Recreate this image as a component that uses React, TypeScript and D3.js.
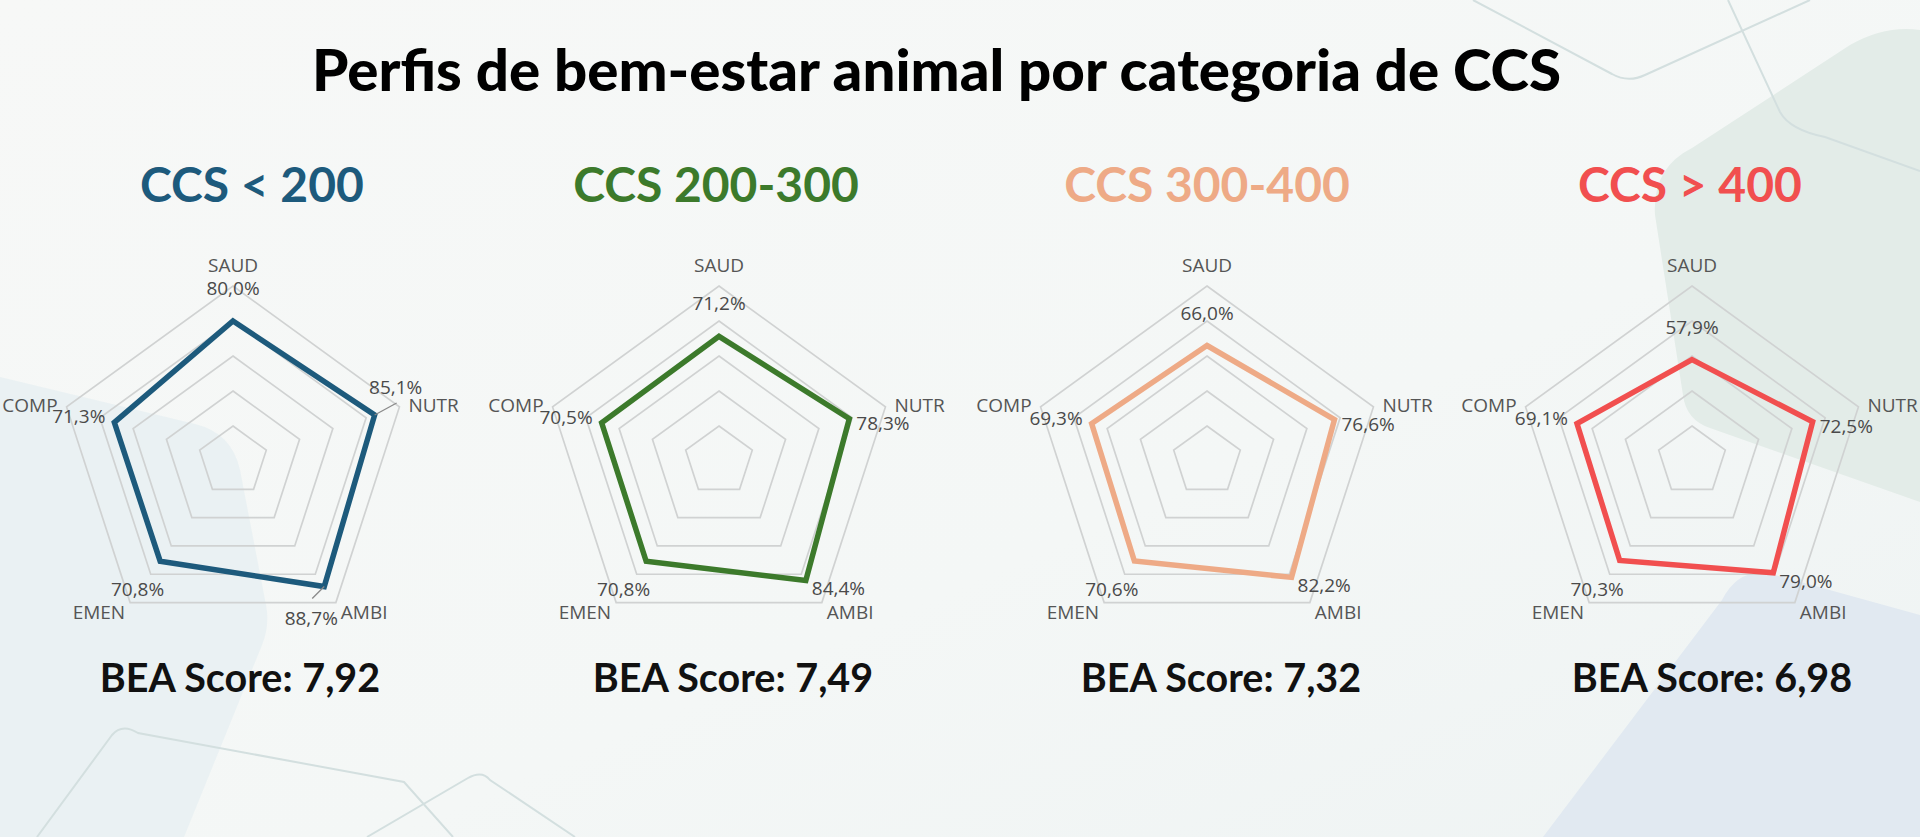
import React from 'react';
import * as d3 from 'd3';

// categories / series
const AXES = ['SAUD', 'NUTR', 'AMBI', 'EMEN', 'COMP'];
const GROUPS = ['CCS < 200', 'CCS 200-300', 'CCS 300-400', 'CCS > 400'];
const ccsLt200 = [80.0, 85.1, 88.7, 70.8, 71.3];
const ccs200to300 = [71.2, 78.3, 84.4, 70.8, 70.5];
const ccs300to400 = [66.0, 76.6, 82.2, 70.6, 69.3];
const ccsGt400 = [57.9, 72.5, 79.0, 70.3, 69.1];
const SERIES = [ccsLt200, ccs200to300, ccs300to400, ccsGt400];
const BEA_SCORES = [7.92, 7.49, 7.32, 6.98];
const GRID_LEVELS = [20, 40, 60, 80, 100];
const TITLE = 'Perfis de bem-estar animal por categoria de CCS';

const COLORS = ['#1d5a7c', '#3c7a2b', '#eeaa86', '#f14f4f'];

const W = 1920;
const H = 837;
const R = 175;
const CY = 461;
const radarX = [233, 719, 1207, 1692];
const headX = [252, 716, 1207, 1690];
const scoreX = [240, 733, 1221, 1712];

const ptBR = d3.formatLocale({ decimal: ',', thousands: '.', grouping: [3], currency: ['R$', ''] });
const pct = (v: number) => ptBR.format('.1f')(v) + '%';
const score = ptBR.format('.2f');

const r = d3.scaleLinear().domain([0, 100]).range([0, R]);
const angle = d3.scaleLinear().domain([0, AXES.length]).range([0, 2 * Math.PI]);
const polar = (i: number, rad: number): [number, number] => [
  rad * Math.sin(angle(i)),
  -rad * Math.cos(angle(i)),
];

const ring = d3.lineRadial<number>()
  .angle((_, i) => angle(i))
  .radius(d => r(d))
  .curve(d3.curveLinearClosed);

type LabelPos = { anchor: string; dx: number; dy: number; far?: { anchor: string; dx: number; dy: number; lead: [number, number] } };

// value label placement relative to each vertex
const VALUE_POS: LabelPos[] = [
  { anchor: 'middle', dx: 0, dy: -33 },
  { anchor: 'start', dx: 7, dy: 4, far: { anchor: 'middle', dx: 21, dy: -28, lead: [22, -12] } },
  { anchor: 'start', dx: 6, dy: 8, far: { anchor: 'middle', dx: -13, dy: 31, lead: [-12, 12] } },
  { anchor: 'end', dx: 4, dy: 28 },
  { anchor: 'end', dx: -9, dy: -6 },
];
// axis name placement relative to outer vertex
const AXIS_POS = [
  { anchor: 'middle', dx: 0, dy: -21 },
  { anchor: 'start', dx: 9, dy: -2 },
  { anchor: 'start', dx: 5, dy: 9 },
  { anchor: 'end', dx: -5, dy: 9 },
  { anchor: 'end', dx: -9, dy: -2 },
];

const labelFont = "'Open Sans', 'Noto Sans', sans-serif";

const Radar: React.FC<{ values: number[]; color: string; cx: number }> = ({ values, color, cx }) => (
  <g transform={`translate(${cx},${CY})`}>
    {GRID_LEVELS.map(lvl => (
      <path key={lvl} d={ring(AXES.map(() => lvl)) || ''} fill="none" stroke="#d0d2d2" strokeWidth={1.7} />
    ))}
    <path d={ring(values) || ''} fill="none" stroke={color} strokeWidth={5.5} strokeLinejoin="miter" />
    {AXES.map((name, i) => {
      const [ox, oy] = polar(i, R);
      const p = AXIS_POS[i];
      return (
        <text key={name} x={ox + p.dx} y={oy + p.dy} textAnchor={p.anchor as any} dominantBaseline="central"
          fontFamily={labelFont} fontSize={19} fill="#555">{name}</text>
      );
    })}
    {values.map((v, i) => {
      const [vx, vy] = polar(i, r(v));
      const base = VALUE_POS[i];
      const far = base.far && v >= 85 ? base.far : null;
      const p = far || base;
      return (
        <g key={i}>
          {far && (
            <line x1={vx} y1={vy} x2={vx + far.lead[0]} y2={vy + far.lead[1]} stroke="#8a8a8a" strokeWidth={1.3} />
          )}
          <text x={vx + p.dx} y={vy + p.dy} textAnchor={p.anchor as any} dominantBaseline="central"
            fontFamily={labelFont} fontSize={19} fill="#4a4a4a">{pct(v)}</text>
        </g>
      );
    })}
  </g>
);

const App: React.FC = () => (
  <div style={{ position: 'fixed', left: 0, top: 0, width: W, height: H }}>
    <svg width={W} height={H} viewBox={`0 0 ${W} ${H}`} style={{ display: 'block' }}>
      <defs>
        <linearGradient id="bg" x1="0" y1="0" x2="1" y2="1">
          <stop offset="0" stopColor="#f7f8f7" />
          <stop offset="0.6" stopColor="#f4f7f6" />
          <stop offset="1" stopColor="#eef3f3" />
        </linearGradient>
      </defs>
      <rect width={W} height={H} fill="url(#bg)" />
      {/* soft background shapes */}
      <path d="M0,377 L195,424 Q232,433 240,470 L266,605 Q270,625 262,645 L184,837 L0,837 Z" fill="#e7f0f2" opacity={0.85} />
      <path d="M1655,215 Q1652,168 1692,148 L1850,45 Q1885,25 1920,30 L1920,502 L1710,428 Q1686,420 1683,395 Z" fill="#e3ece8" />
      <path d="M1722,600 Q1740,565 1775,575 L1920,615 L1920,837 L1543,837 Z" fill="#e1e9f1" />
      <g fill="none" stroke="#d3dfdf" strokeWidth={2}>
        <path d="M1473,0 L1612,74 Q1628,83 1645,75 L1810,0" />
        <path d="M1728,0 L1780,112 Q1790,130 1825,137 L1920,171" />
        <path d="M37,837 L112,735 Q122,723 138,733 L404,782 L453,837" />
        <path d="M367,837 L468,778 Q482,770 490,780 L575,837" />
      </g>

      <text x={312} y={91} textLength={1249} lengthAdjust="spacingAndGlyphs"
        fontFamily="Lato, 'Open Sans', sans-serif" fontWeight={900} fontSize={57} fill="#000">{TITLE}</text>

      {SERIES.map((vals, k) => (
        <g key={GROUPS[k]}>
          <text x={headX[k]} y={202} textAnchor="middle" fontFamily="Lato, 'Open Sans', sans-serif"
            fontWeight={700} fontSize={48} fill={COLORS[k]}>{GROUPS[k]}</text>
          <Radar values={vals} color={COLORS[k]} cx={radarX[k]} />
          <text x={scoreX[k]} y={692} textAnchor="middle" fontFamily="Lato, 'Open Sans', sans-serif"
            fontWeight={700} fontSize={39.5} fill="#111">{`BEA Score: ${score(BEA_SCORES[k])}`}</text>
        </g>
      ))}
    </svg>
  </div>
);

export default App;
